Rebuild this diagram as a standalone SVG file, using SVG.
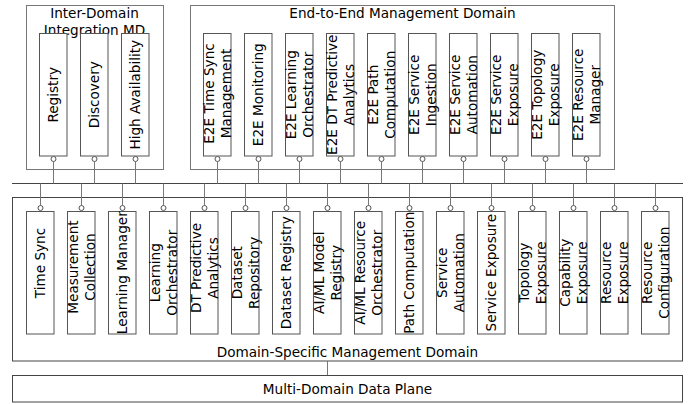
<svg xmlns="http://www.w3.org/2000/svg" width="697" height="404" viewBox="0 0 697 404">
<style>
text{font-family:"DejaVu Sans","Verdana",sans-serif;font-size:13.6px;fill:#000;text-anchor:middle}
.cont{fill:#fff;stroke:#777;stroke-width:1}
.base{fill:#fff;stroke:#444;stroke-width:1}
.box{fill:#fff;stroke:#555;stroke-width:1}
.ln{stroke:#777;stroke-width:1;fill:none}
.bus{stroke:#444;stroke-width:1;fill:none}
.port{fill:#fff;stroke:#555;stroke-width:1}
</style>
<rect width="697" height="404" fill="#fff"/>
<g id="inter-domain">
<rect class="cont" x="26.5" y="5.5" width="137" height="164"/>
<text x="94.5" y="17.5">Inter-Domain</text>
<text x="94.5" y="34.5">Integration MD</text>
</g>
<g id="e2e-domain">
<rect class="cont" x="190.5" y="5.5" width="424" height="164"/>
<text x="402.5" y="18">End-to-End Management Domain</text>
</g>
<g id="ds-domain">
<rect class="base" x="12.5" y="197.5" width="670" height="163.5"/>
<text x="347.5" y="357">Domain-Specific Management Domain</text>
</g>
<g id="data-plane">
<rect class="base" x="12.5" y="375.5" width="670" height="26.5"/>
<text x="347.5" y="393.5">Multi-Domain Data Plane</text>
</g>
<g id="connectors">
<line class="bus" x1="12" y1="183.5" x2="683" y2="183.5"/>
<path class="ln" d="M53.5 161.5V183.5M94.5 161.5V183.5M135.5 161.5V183.5M217.5 161.5V183.5M258.5 161.5V183.5M299.5 161.5V183.5M340.5 161.5V183.5M381.5 161.5V183.5M422.5 161.5V183.5M463.5 161.5V183.5M504.5 161.5V183.5M545.5 161.5V183.5M586.5 161.5V183.5"/>
<path class="ln" d="M40.5 183.5V205.5M81.5 183.5V205.5M122.5 183.5V205.5M163.5 183.5V205.5M204.5 183.5V205.5M245.5 183.5V205.5M286.5 183.5V205.5M327.5 183.5V205.5M368.5 183.5V205.5M409.5 183.5V205.5M450.5 183.5V205.5M491.5 183.5V205.5M532.5 183.5V205.5M573.5 183.5V205.5M614.5 183.5V205.5M655.5 183.5V205.5"/>
<line class="ln" x1="327.5" y1="361" x2="327.5" y2="375"/>
</g>
<g id="registry"><rect class="box" x="39.5" y="33.5" width="27.5" height="122.5"/><circle class="port" cx="53.5" cy="159" r="2.5"/><text transform="translate(53.5,94.75) rotate(-90)" y="4.8">Registry</text></g>
<g id="discovery"><rect class="box" x="80.5" y="33.5" width="27.5" height="122.5"/><circle class="port" cx="94.5" cy="159" r="2.5"/><text transform="translate(94.5,94.75) rotate(-90)" y="4.8">Discovery</text></g>
<g id="high-availability"><rect class="box" x="121.5" y="33.5" width="27.5" height="122.5"/><circle class="port" cx="135.5" cy="159" r="2.5"/><text transform="translate(135.5,94.75) rotate(-90)" y="4.8">High Availability</text></g>
<g id="e2e-time-sync"><rect class="box" x="203.5" y="33.5" width="27.5" height="122.5"/><circle class="port" cx="217.5" cy="159" r="2.5"/><text transform="translate(217.5,93.5) rotate(-90)"><tspan x="0" y="-3.5">E2E Time Sync</tspan><tspan x="0" y="13">Management</tspan></text></g>
<g id="e2e-monitoring"><rect class="box" x="244.5" y="33.5" width="27.5" height="122.5"/><circle class="port" cx="258.5" cy="159" r="2.5"/><text transform="translate(258.5,94.75) rotate(-90)" y="4.8">E2E Monitoring</text></g>
<g id="e2e-learning"><rect class="box" x="285.5" y="33.5" width="27.5" height="122.5"/><circle class="port" cx="299.5" cy="159" r="2.5"/><text transform="translate(299.5,94.75) rotate(-90)"><tspan x="0" y="-3.5">E2E Learning</tspan><tspan x="0" y="13">Orchestrator</tspan></text></g>
<g id="e2e-dt"><rect class="box" x="326.5" y="33.5" width="27.5" height="122.5"/><circle class="port" cx="340.5" cy="159" r="2.5"/><text transform="translate(340.5,94.75) rotate(-90)"><tspan x="0" y="-3.5">E2E DT Predictive</tspan><tspan x="0" y="13">Analytics</tspan></text></g>
<g id="e2e-path"><rect class="box" x="367.5" y="33.5" width="27.5" height="122.5"/><circle class="port" cx="381.5" cy="159" r="2.5"/><text transform="translate(381.5,94.75) rotate(-90)"><tspan x="0" y="-3.5">E2E Path</tspan><tspan x="0" y="13">Computation</tspan></text></g>
<g id="e2e-ingestion"><rect class="box" x="408.5" y="33.5" width="27.5" height="122.5"/><circle class="port" cx="422.5" cy="159" r="2.5"/><text transform="translate(422.5,94.75) rotate(-90)"><tspan x="0" y="-3.5">E2E Service</tspan><tspan x="0" y="13">Ingestion</tspan></text></g>
<g id="e2e-automation"><rect class="box" x="449.5" y="33.5" width="27.5" height="122.5"/><circle class="port" cx="463.5" cy="159" r="2.5"/><text transform="translate(463.5,94.75) rotate(-90)"><tspan x="0" y="-3.5">E2E Service</tspan><tspan x="0" y="13">Automation</tspan></text></g>
<g id="e2e-service-exposure"><rect class="box" x="490.5" y="33.5" width="27.5" height="122.5"/><circle class="port" cx="504.5" cy="159" r="2.5"/><text transform="translate(504.5,94.75) rotate(-90)"><tspan x="0" y="-3.5">E2E Service</tspan><tspan x="0" y="13">Exposure</tspan></text></g>
<g id="e2e-topology"><rect class="box" x="531.5" y="33.5" width="27.5" height="122.5"/><circle class="port" cx="545.5" cy="159" r="2.5"/><text transform="translate(545.5,94.75) rotate(-90)"><tspan x="0" y="-3.5">E2E Topology</tspan><tspan x="0" y="13">Exposure</tspan></text></g>
<g id="e2e-resource"><rect class="box" x="572.5" y="33.5" width="27.5" height="122.5"/><circle class="port" cx="586.5" cy="159" r="2.5"/><text transform="translate(586.5,94.75) rotate(-90)"><tspan x="0" y="-3.5">E2E Resource</tspan><tspan x="0" y="13">Manager</tspan></text></g>
<g id="time-sync"><rect class="box" x="26.5" y="211.5" width="27.5" height="122.5"/><circle class="port" cx="40.5" cy="208" r="2.5"/><text transform="translate(40.5,263) rotate(-90)" y="4.8">Time Sync</text></g>
<g id="measurement"><rect class="box" x="67.5" y="211.5" width="27.5" height="122.5"/><circle class="port" cx="81.5" cy="208" r="2.5"/><text transform="translate(81.5,267) rotate(-90)"><tspan x="0" y="-3.5">Measurement</tspan><tspan x="0" y="13">Collection</tspan></text></g>
<g id="learning-manager"><rect class="box" x="108.5" y="211.5" width="27.5" height="122.5"/><circle class="port" cx="122.5" cy="208" r="2.5"/><text transform="translate(122.5,272.75) rotate(-90)" y="4.8">Learning Manager</text></g>
<g id="learning-orchestrator"><rect class="box" x="149.5" y="211.5" width="27.5" height="122.5"/><circle class="port" cx="163.5" cy="208" r="2.5"/><text transform="translate(163.5,272.75) rotate(-90)"><tspan x="0" y="-3.5">Learning</tspan><tspan x="0" y="13">Orchestrator</tspan></text></g>
<g id="dt-analytics"><rect class="box" x="190.5" y="211.5" width="27.5" height="122.5"/><circle class="port" cx="204.5" cy="208" r="2.5"/><text transform="translate(204.5,268) rotate(-90)"><tspan x="0" y="-3.5">DT Predictive</tspan><tspan x="0" y="13">Analytics</tspan></text></g>
<g id="dataset-repository"><rect class="box" x="231.5" y="211.5" width="27.5" height="122.5"/><circle class="port" cx="245.5" cy="208" r="2.5"/><text transform="translate(245.5,272.75) rotate(-90)"><tspan x="0" y="-3.5">Dataset</tspan><tspan x="0" y="13">Repository</tspan></text></g>
<g id="dataset-registry"><rect class="box" x="272.5" y="211.5" width="27.5" height="122.5"/><circle class="port" cx="286.5" cy="208" r="2.5"/><text transform="translate(286.5,272.75) rotate(-90)" y="4.8">Dataset Registry</text></g>
<g id="aiml-model-registry"><rect class="box" x="313.5" y="211.5" width="27.5" height="122.5"/><circle class="port" cx="327.5" cy="208" r="2.5"/><text transform="translate(327.5,272.75) rotate(-90)"><tspan x="0" y="-3.5">AI/ML Model</tspan><tspan x="0" y="13">Registry</tspan></text></g>
<g id="aiml-resource-orchestrator"><rect class="box" x="354.5" y="211.5" width="27.5" height="122.5"/><circle class="port" cx="368.5" cy="208" r="2.5"/><text transform="translate(368.5,272.75) rotate(-90)"><tspan x="0" y="-3.5">AI/ML Resource</tspan><tspan x="0" y="13">Orchestrator</tspan></text></g>
<g id="path-computation"><rect class="box" x="395.5" y="211.5" width="27.5" height="122.5"/><circle class="port" cx="409.5" cy="208" r="2.5"/><text transform="translate(409.5,272.75) rotate(-90)" y="4.8">Path Computation</text></g>
<g id="service-automation"><rect class="box" x="436.5" y="211.5" width="27.5" height="122.5"/><circle class="port" cx="450.5" cy="208" r="2.5"/><text transform="translate(450.5,272.75) rotate(-90)"><tspan x="0" y="-3.5">Service</tspan><tspan x="0" y="13">Automation</tspan></text></g>
<g id="service-exposure"><rect class="box" x="477.5" y="211.5" width="27.5" height="122.5"/><circle class="port" cx="491.5" cy="208" r="2.5"/><text transform="translate(491.5,272.75) rotate(-90)" y="4.8">Service Exposure</text></g>
<g id="topology-exposure"><rect class="box" x="518.5" y="211.5" width="27.5" height="122.5"/><circle class="port" cx="532.5" cy="208" r="2.5"/><text transform="translate(532.5,272.75) rotate(-90)"><tspan x="0" y="-3.5">Topology</tspan><tspan x="0" y="13">Exposure</tspan></text></g>
<g id="capability-exposure"><rect class="box" x="559.5" y="211.5" width="27.5" height="122.5"/><circle class="port" cx="573.5" cy="208" r="2.5"/><text transform="translate(573.5,272.75) rotate(-90)"><tspan x="0" y="-3.5">Capability</tspan><tspan x="0" y="13">Exposure</tspan></text></g>
<g id="resource-exposure"><rect class="box" x="600.5" y="211.5" width="27.5" height="122.5"/><circle class="port" cx="614.5" cy="208" r="2.5"/><text transform="translate(614.5,272.75) rotate(-90)"><tspan x="0" y="-3.5">Resource</tspan><tspan x="0" y="13">Exposure</tspan></text></g>
<g id="resource-configuration"><rect class="box" x="641.5" y="211.5" width="27.5" height="122.5"/><circle class="port" cx="655.5" cy="208" r="2.5"/><text transform="translate(655.5,272.75) rotate(-90)"><tspan x="0" y="-3.5">Resource</tspan><tspan x="0" y="13">Configuration</tspan></text></g>
</svg>
